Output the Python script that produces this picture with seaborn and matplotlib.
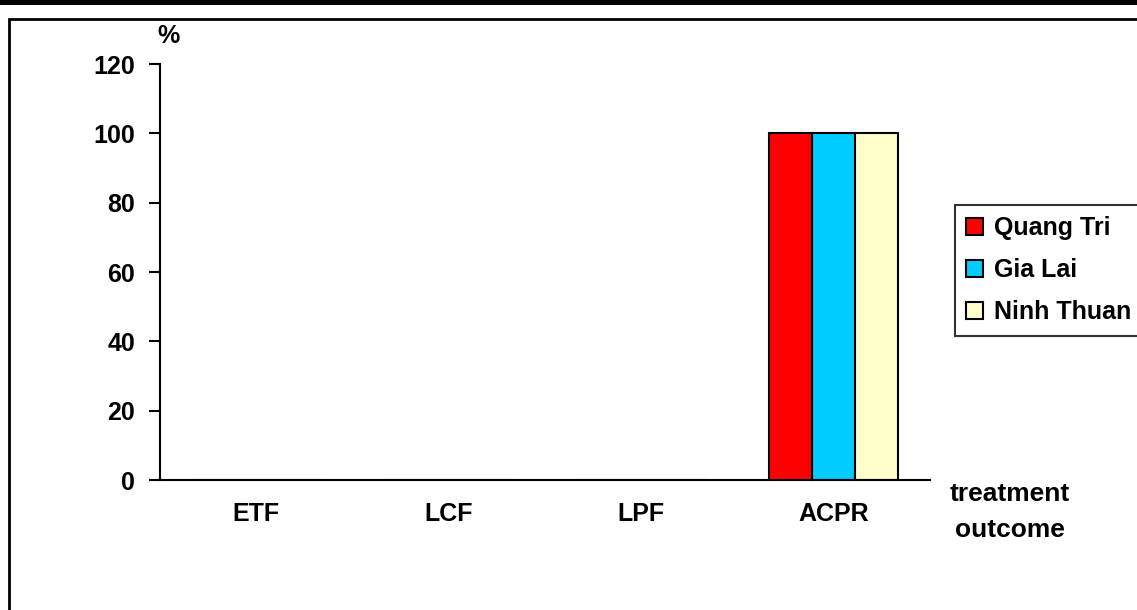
import matplotlib
matplotlib.use("Agg")
import matplotlib.pyplot as plt
import seaborn as sns
import pandas as pd
from matplotlib.patches import Rectangle

categories = ["ETF", "LCF", "LPF", "ACPR"]
provinces = ["Quang Tri", "Gia Lai", "Ninh Thuan"]
quang_tri = [0, 0, 0, 100]
gia_lai = [0, 0, 0, 100]
ninh_thuan = [0, 0, 0, 100]
y_ticks = [0, 20, 40, 60, 80, 100, 120]
colors = ["#FF0000", "#00CCFF", "#FFFFCC"]

rows = []
for prov, vals in zip(provinces, [quang_tri, gia_lai, ninh_thuan]):
    for c, v in zip(categories, vals):
        rows.append({"outcome": c, "province": prov, "value": v})
df = pd.DataFrame(rows)

sns.set_style("white")
plt.rcParams["font.family"] = ["Liberation Sans", "DejaVu Sans"]
plt.rcParams["font.weight"] = "bold"
plt.rcParams["text.color"] = "black"
plt.rcParams["axes.labelcolor"] = "black"
plt.rcParams["xtick.color"] = "black"
plt.rcParams["ytick.color"] = "black"

FS = 18

fig = plt.figure(figsize=(11.37, 6.10), dpi=100)
ax = fig.add_axes([160/1137, 1-480/610, (930-160)/1137, (480-64)/610])

sns.barplot(data=df, x="outcome", y="value", hue="province", order=categories,
            hue_order=provinces, palette=colors, width=0.67, edgecolor="black",
            linewidth=1.5, saturation=1, ax=ax, errorbar=None)

ax.set_xlim(-0.5, 3.5)
ax.set_ylim(0, 120)
ax.set_yticks(y_ticks)
ax.set_yticklabels([str(t) for t in y_ticks], fontsize=FS, fontweight="bold", color="black")
ax.set_xticks(range(len(categories)))
ax.set_xticklabels(categories, fontsize=FS, fontweight="bold", color="black")
ax.tick_params(axis="x", which="major", length=0, pad=16)
ax.set_xticks([i - 0.5 for i in range(len(categories) + 1)], minor=True)
ax.tick_params(axis="x", which="minor", length=8, width=1.5, direction="out", color="black")
ax.tick_params(axis="y", length=8, width=1.5, direction="out", color="black", pad=10, left=True)
ax.set_xlabel("")
ax.set_ylabel("")
for s in ["top", "right"]:
    ax.spines[s].set_visible(False)
for s in ["left", "bottom"]:
    ax.spines[s].set_color("black")
    ax.spines[s].set_linewidth(1.5)

fig.text(157/1137, 1-36/610, "%", fontsize=FS, fontweight="bold", ha="left", va="center",
         color="black")
fig.text(1010/1137, 1-512/610, "treatment\noutcome", fontsize=FS + 1, fontweight="bold",
         ha="center", va="center", multialignment="center", linespacing=1.6, color="black")

leg = ax.legend(loc="upper left", bbox_to_anchor=(955/1137, 1-205/610),
                bbox_transform=fig.transFigure, frameon=True, fancybox=False,
                edgecolor="black", fontsize=FS, handlelength=0.65, handleheight=0.65,
                handletextpad=0.45, borderpad=0.45, labelspacing=0.72, borderaxespad=0)
leg.get_frame().set_linewidth(1.5)
for t in leg.get_texts():
    t.set_fontweight("bold")
    t.set_color("black")

# outer chart frame and top band
fig.patches.append(Rectangle((9/1137, -0.1), 1.2, 1-19/610+0.1, transform=fig.transFigure,
                             fill=False, edgecolor="black", linewidth=2, zorder=0))
fig.patches.append(Rectangle((0, 1-5/610), 1, 5/610, transform=fig.transFigure,
                             facecolor="black", edgecolor="none", zorder=0))

fig.savefig("out.png", dpi=100)
